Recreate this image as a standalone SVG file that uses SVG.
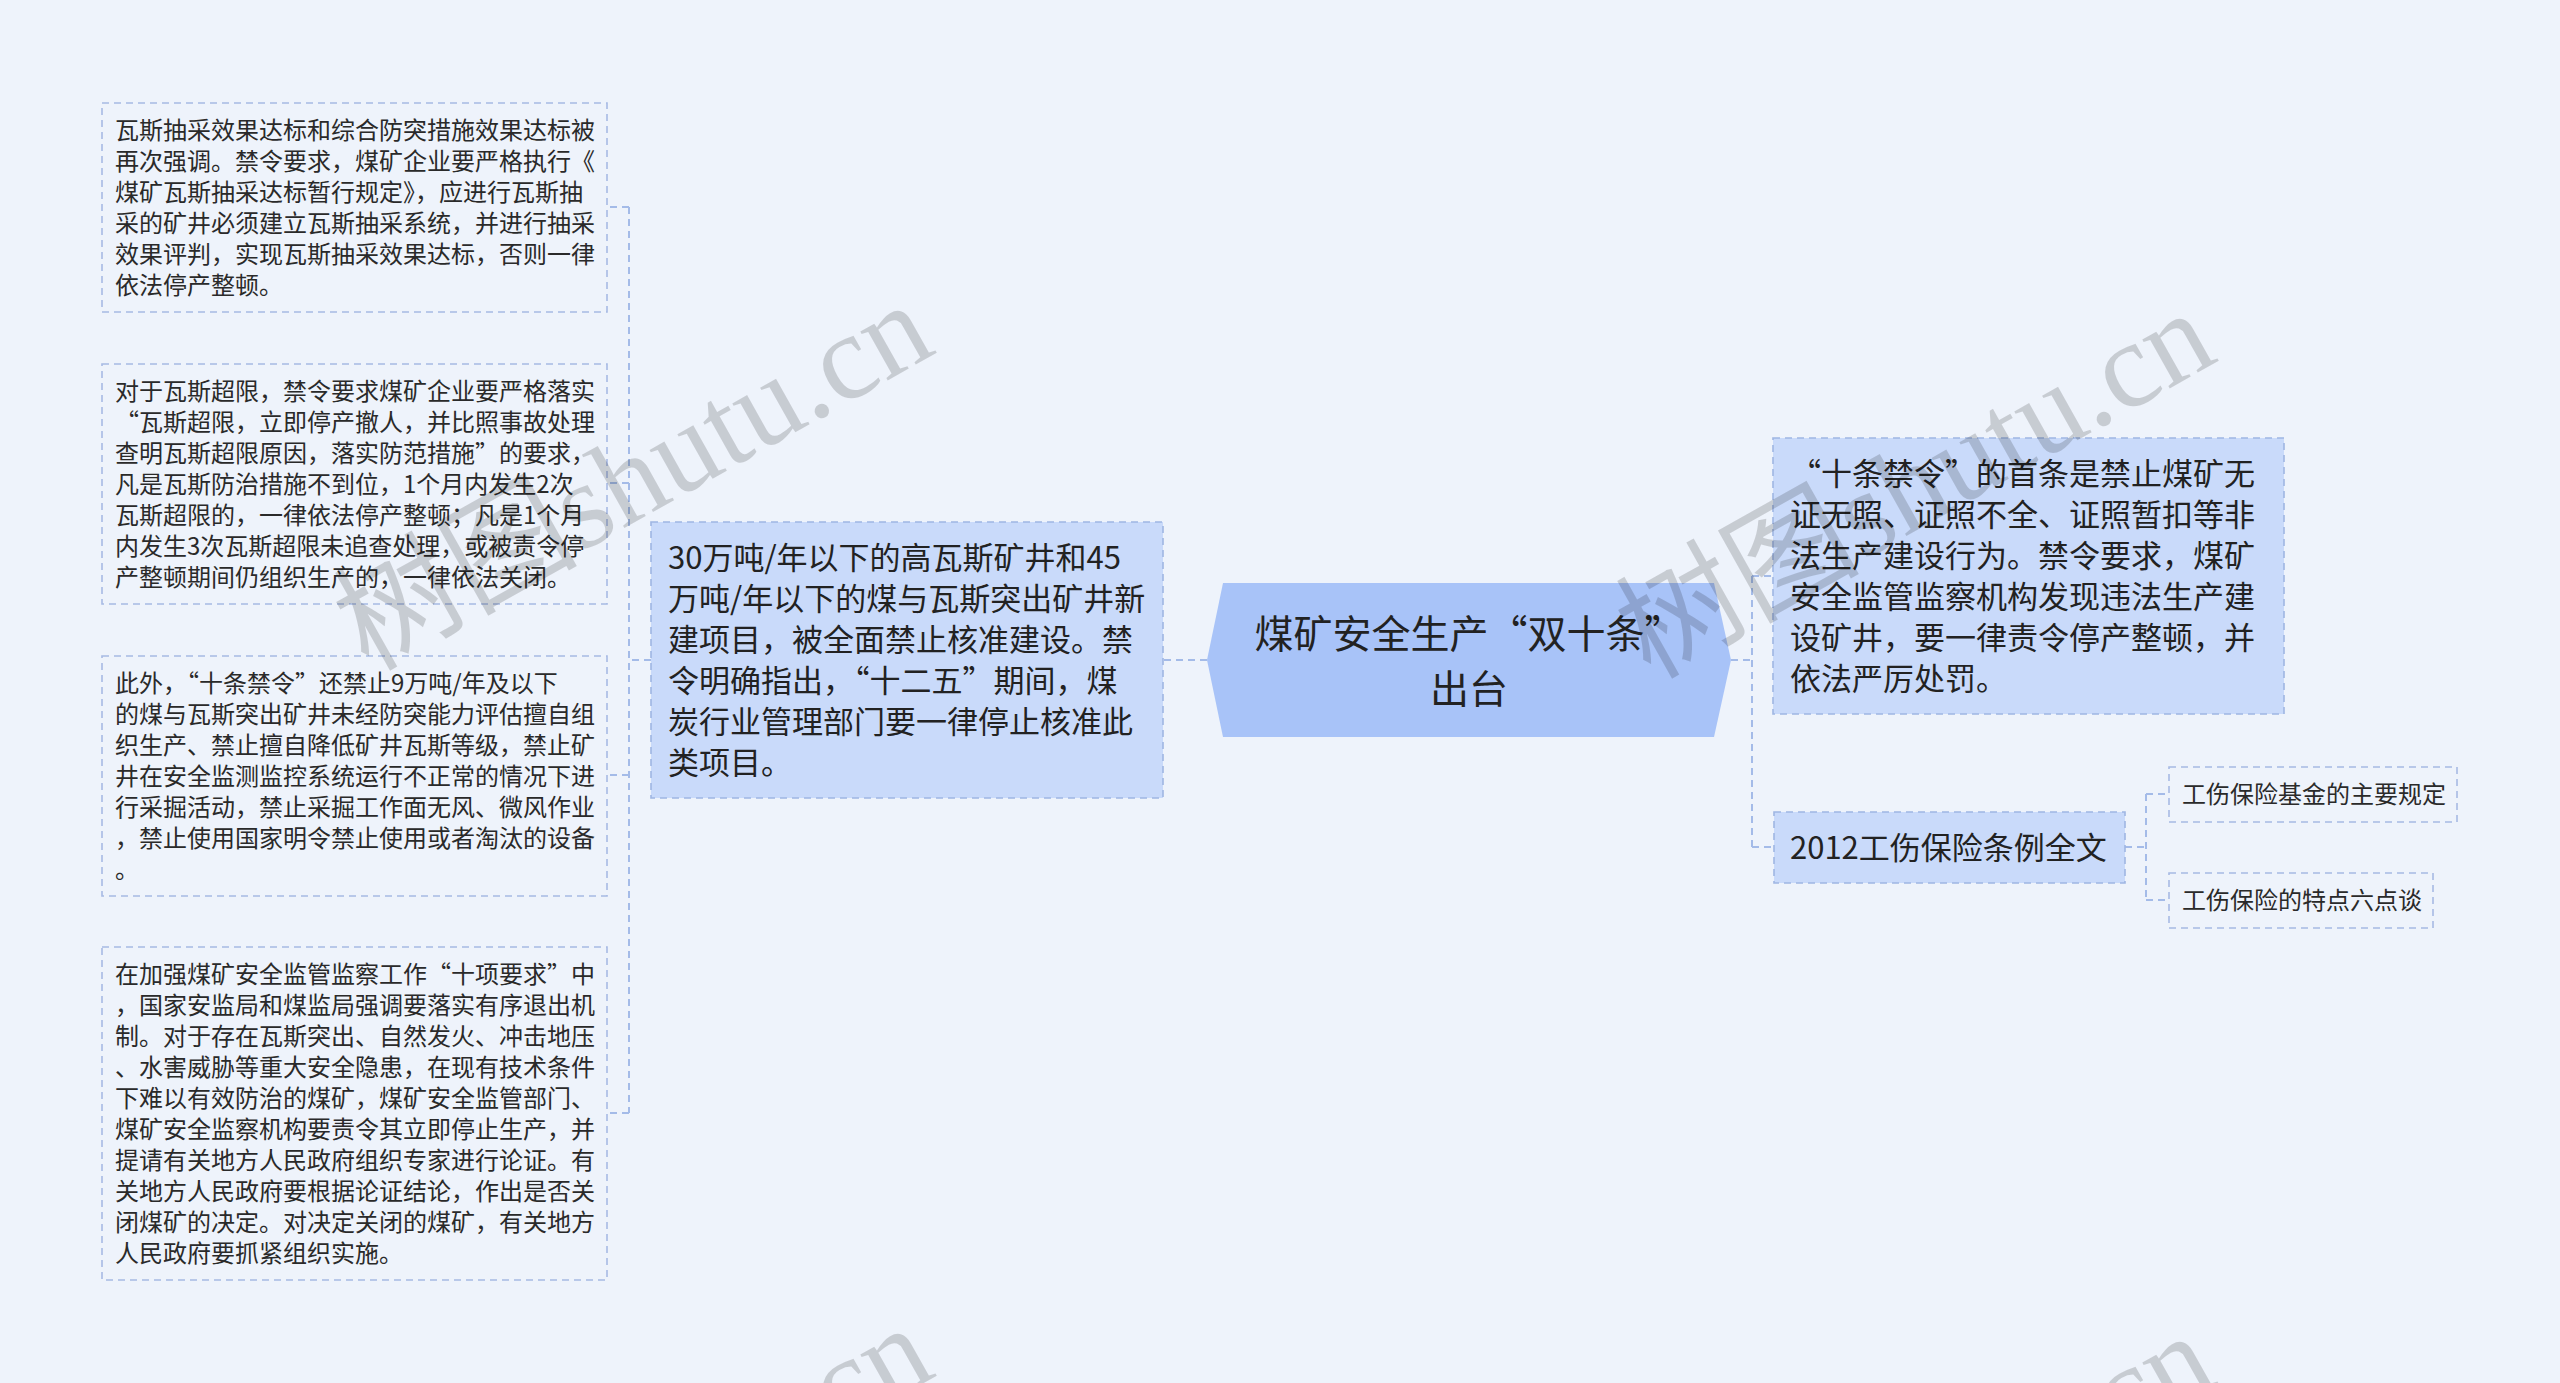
<svg xmlns="http://www.w3.org/2000/svg" width="2560" height="1383" viewBox="0 0 2560 1383">
<style>
.bg{fill:#eef3fb}
.leaf{fill:#eef3fb;stroke:#a7bae4;stroke-width:1.6;stroke-dasharray:7 5}
.lvl1{fill:#c9dafa;stroke:#9fb6e3;stroke-width:1.6;stroke-dasharray:7 5}
.root{fill:#a8c3f8}
.conn{fill:none;stroke:#a4bbe8;stroke-width:2;stroke-dasharray:7 5}
.t24{font-family:"Noto Sans CJK SC","Noto Sans",sans-serif;font-size:24px;fill:#2a2a2a}
.t31{font-family:"Noto Sans CJK SC","Noto Sans",sans-serif;font-size:31px;fill:#222}
.t39{font-family:"Noto Sans CJK SC","Noto Sans",sans-serif;font-size:39px;fill:#222}
.wm{font-family:"Liberation Serif","Noto Sans CJK SC",serif;font-size:122px;fill:#000;fill-opacity:0.16}
</style>
<rect class="bg" x="0" y="0" width="2560" height="1383"/>

<g id="connectors">
  <path class="conn" d="M1207 660 H1163"/>
  <path class="conn" d="M651 660 H629"/>
  <path class="conn" d="M629 207 V1113"/>
  <path class="conn" d="M629 207 H607"/>
  <path class="conn" d="M629 483 H607"/>
  <path class="conn" d="M629 775 H607"/>
  <path class="conn" d="M629 1113 H607"/>
  <path class="conn" d="M1731 660 H1752"/>
  <path class="conn" d="M1752 576 V847"/>
  <path class="conn" d="M1752 576 H1773"/>
  <path class="conn" d="M1752 847 H1774"/>
  <path class="conn" d="M2125 847 H2146"/>
  <path class="conn" d="M2146 794 V900"/>
  <path class="conn" d="M2146 794 H2169"/>
  <path class="conn" d="M2146 900 H2169"/>
</g>

<g id="root">
  <polygon class="root" points="1207,660 1223,583 1714,583 1731,660 1714,737 1223,737"/>
  <text class="t39" text-anchor="middle"><tspan x="1469" y="648">煤矿安全生产“双十条”</tspan><tspan x="1469" y="703">出台</tspan></text>
</g>

<g id="branch-left">
  <rect class="lvl1" x="651" y="522" width="512" height="276"/>
  <text class="t31"><tspan x="668" y="569">30万吨/年以下的高瓦斯矿井和45</tspan><tspan x="668" y="610">万吨/年以下的煤与瓦斯突出矿井新</tspan><tspan x="668" y="651">建项目，被全面禁止核准建设。禁</tspan><tspan x="668" y="692">令明确指出，“十二五”期间，煤</tspan><tspan x="668" y="733">炭行业管理部门要一律停止核准此</tspan><tspan x="668" y="774">类项目。</tspan></text>
</g>

<g id="leaf-1">
  <rect class="leaf" x="102" y="103" width="505" height="209"/>
  <text class="t24"><tspan x="115" y="139">瓦斯抽采效果达标和综合防突措施效果达标被</tspan><tspan x="115" y="170">再次强调。禁令要求，煤矿企业要严格执行《</tspan><tspan x="115" y="201">煤矿瓦斯抽采达标暂行规定》，应进行瓦斯抽</tspan><tspan x="115" y="232">采的矿井必须建立瓦斯抽采系统，并进行抽采</tspan><tspan x="115" y="263">效果评判，实现瓦斯抽采效果达标，否则一律</tspan><tspan x="115" y="294">依法停产整顿。</tspan></text>
</g>

<g id="leaf-2">
  <rect class="leaf" x="102" y="364" width="505" height="240"/>
  <text class="t24"><tspan x="115" y="400">对于瓦斯超限，禁令要求煤矿企业要严格落实</tspan><tspan x="115" y="431">“瓦斯超限，立即停产撤人，并比照事故处理</tspan><tspan x="115" y="462">查明瓦斯超限原因，落实防范措施”的要求，</tspan><tspan x="115" y="493">凡是瓦斯防治措施不到位，1个月内发生2次</tspan><tspan x="115" y="524">瓦斯超限的，一律依法停产整顿；凡是1个月</tspan><tspan x="115" y="555">内发生3次瓦斯超限未追查处理，或被责令停</tspan><tspan x="115" y="586">产整顿期间仍组织生产的，一律依法关闭。</tspan></text>
</g>

<g id="leaf-3">
  <rect class="leaf" x="102" y="656" width="505" height="240"/>
  <text class="t24"><tspan x="115" y="692">此外，“十条禁令”还禁止9万吨/年及以下</tspan><tspan x="115" y="723">的煤与瓦斯突出矿井未经防突能力评估擅自组</tspan><tspan x="115" y="754">织生产、禁止擅自降低矿井瓦斯等级，禁止矿</tspan><tspan x="115" y="785">井在安全监测监控系统运行不正常的情况下进</tspan><tspan x="115" y="816">行采掘活动，禁止采掘工作面无风、微风作业</tspan><tspan x="115" y="847">，禁止使用国家明令禁止使用或者淘汰的设备</tspan><tspan x="115" y="878">。</tspan></text>
</g>

<g id="leaf-4">
  <rect class="leaf" x="102" y="947" width="505" height="333"/>
  <text class="t24"><tspan x="115" y="983">在加强煤矿安全监管监察工作“十项要求”中</tspan><tspan x="115" y="1014">，国家安监局和煤监局强调要落实有序退出机</tspan><tspan x="115" y="1045">制。对于存在瓦斯突出、自然发火、冲击地压</tspan><tspan x="115" y="1076">、水害威胁等重大安全隐患，在现有技术条件</tspan><tspan x="115" y="1107">下难以有效防治的煤矿，煤矿安全监管部门、</tspan><tspan x="115" y="1138">煤矿安全监察机构要责令其立即停止生产，并</tspan><tspan x="115" y="1169">提请有关地方人民政府组织专家进行论证。有</tspan><tspan x="115" y="1200">关地方人民政府要根据论证结论，作出是否关</tspan><tspan x="115" y="1231">闭煤矿的决定。对决定关闭的煤矿，有关地方</tspan><tspan x="115" y="1262">人民政府要抓紧组织实施。</tspan></text>
</g>

<g id="branch-right-1">
  <rect class="lvl1" x="1773" y="438" width="511" height="276"/>
  <text class="t31"><tspan x="1790" y="485">“十条禁令”的首条是禁止煤矿无</tspan><tspan x="1790" y="526">证无照、证照不全、证照暂扣等非</tspan><tspan x="1790" y="567">法生产建设行为。禁令要求，煤矿</tspan><tspan x="1790" y="608">安全监管监察机构发现违法生产建</tspan><tspan x="1790" y="649">设矿井，要一律责令停产整顿，并</tspan><tspan x="1790" y="690">依法严厉处罚。</tspan></text>
</g>

<g id="branch-right-2">
  <rect class="lvl1" x="1774" y="812" width="351" height="71"/>
  <text class="t31" x="1790" y="859">2012工伤保险条例全文</text>
</g>

<g id="sub-leaf-1">
  <rect class="leaf" x="2169" y="767" width="288" height="55"/>
  <text class="t24" x="2182" y="803">工伤保险基金的主要规定</text>
</g>

<g id="sub-leaf-2">
  <rect class="leaf" x="2169" y="873" width="264" height="55"/>
  <text class="t24" x="2182" y="909">工伤保险的特点六点谈</text>
</g>

<g id="watermark">
  <text class="wm" transform="translate(368,672) rotate(-29.3)">树图shutu.cn</text>
  <text class="wm" transform="translate(1650,680) rotate(-29.3)">树图shutu.cn</text>
  <text class="wm" transform="translate(368,1695) rotate(-29.3)">树图shutu.cn</text>
  <text class="wm" transform="translate(1650,1703) rotate(-29.3)">树图shutu.cn</text>
</g>
</svg>
